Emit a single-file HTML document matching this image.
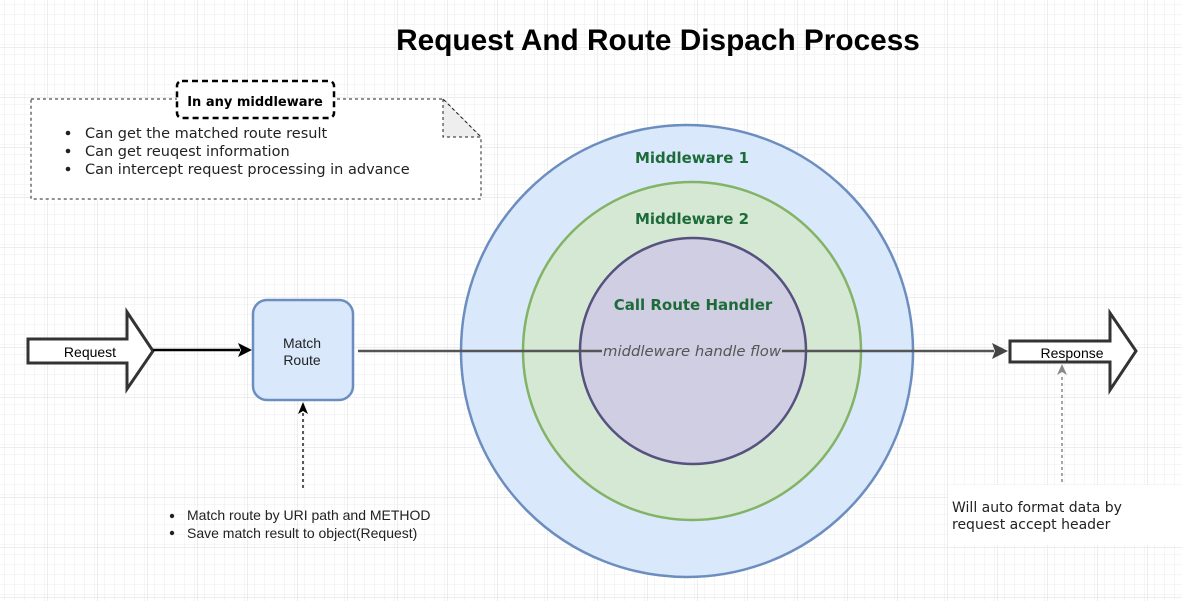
<!DOCTYPE html>
<html><head><meta charset="utf-8"><style>
html,body{margin:0;padding:0;background:#fff;}
svg{display:block;}
text{font-family:"Liberation Sans",sans-serif;}
text.dv{font-family:"DejaVu Sans",sans-serif;}
</style></head><body>
<svg width="1182" height="601" viewBox="0 0 1182 601" xmlns="http://www.w3.org/2000/svg">
<defs>
<pattern id="minor" width="10" height="10" patternUnits="userSpaceOnUse" x="-3" y="-3">
<path d="M10 0H0V10" fill="none" stroke="#ececec" stroke-width="1"/>
</pattern>
<pattern id="major" width="50" height="50" patternUnits="userSpaceOnUse" x="-3" y="-3">
<rect width="50" height="50" fill="url(#minor)"/>
<path d="M50 0H0V50" fill="none" stroke="#dcdcdc" stroke-width="1"/>
</pattern>
</defs>
<rect width="1182" height="601" fill="url(#major)"/>

<text x="658" y="50" text-anchor="middle" font-size="29.8" font-weight="bold" fill="#000">Request And Route Dispach Process</text>

<!-- note box -->
<path d="M31 99H443L481 137V199H31Z" fill="#fff" stroke="#222" stroke-dasharray="3,3"/>
<path d="M443 99V137H481Z" fill="#eee" stroke="#222" stroke-dasharray="3,3"/>
<rect x="177" y="81" width="157" height="37" rx="5" fill="#fff" stroke="#000" stroke-width="2.5" stroke-dasharray="6,4"/>
<text class="dv" x="255" y="106" text-anchor="middle" font-size="13" font-weight="bold">In any middleware</text>
<g fill="#222">
<circle cx="68" cy="133" r="2.3"/><text class="dv" x="85" y="138" font-size="14.5">Can get the matched route result</text>
<circle cx="68" cy="151" r="2.3"/><text class="dv" x="85" y="156" font-size="14.5">Can get reuqest information</text>
<circle cx="68" cy="169" r="2.3"/><text class="dv" x="85" y="174" font-size="14.5">Can intercept request processing in advance</text>
</g>

<!-- circles -->
<circle cx="687" cy="351" r="226" fill="#dae8fc" stroke="#6c8ebf" stroke-width="2.5"/>
<circle cx="692" cy="351" r="169" fill="#d5e8d4" stroke="#82b366" stroke-width="2.5"/>
<circle cx="693" cy="351" r="113" fill="#d0cee2" stroke="#56517e" stroke-width="2.5"/>
<text class="dv" x="692" y="163" text-anchor="middle" font-size="15" font-weight="bold" fill="#1e6b3a">Middleware 1</text>
<text class="dv" x="692" y="224" text-anchor="middle" font-size="15" font-weight="bold" fill="#1e6b3a">Middleware 2</text>
<text class="dv" x="693" y="310" text-anchor="middle" font-size="15" font-weight="bold" fill="#1e6b3a">Call Route Handler</text>

<!-- request arrow -->
<path d="M28 339H127V312L153 351L127 389V363H28Z" fill="#fff" stroke="#333" stroke-width="3"/>
<text x="90" y="357" text-anchor="middle" font-size="14">Request</text>
<line x1="153" y1="350" x2="240" y2="350" stroke="#000" stroke-width="2.5"/>
<path d="M252 350L238 343L241 350L238 357Z" fill="#000"/>

<!-- match route -->
<rect x="253" y="300" width="100" height="100" rx="14" fill="#dae8fc" stroke="#6c8ebf" stroke-width="2.5"/>
<text x="302" y="348" text-anchor="middle" font-size="14" fill="#222">Match</text>
<text x="302" y="365" text-anchor="middle" font-size="14" fill="#222">Route</text>
<line x1="303" y1="488" x2="303" y2="413" stroke="#222" stroke-width="1.5" stroke-dasharray="3,3"/>
<path d="M303 402L298 414L303 411L308 414Z" fill="#000"/>

<!-- main flow line -->
<line x1="358" y1="351" x2="994" y2="351" stroke="#555" stroke-width="2.5"/>
<rect x="602" y="341" width="180" height="20" fill="#d0cee2"/>
<text class="dv" x="692" y="356" text-anchor="middle" font-size="14" font-style="italic" fill="#555" textLength="178" lengthAdjust="spacingAndGlyphs">middleware handle flow</text>
<path d="M1008 351L992 343L995 351L992 359Z" fill="#444"/>

<!-- response arrow -->
<path d="M1010 341H1110V313L1136 351L1110 390V362H1010Z" fill="#fff" stroke="#333" stroke-width="3"/>
<text x="1072" y="358" text-anchor="middle" font-size="14">Response</text>
<line x1="1062" y1="482" x2="1062" y2="374" stroke="#888" stroke-width="1.5" stroke-dasharray="3,3"/>
<path d="M1062 364L1057 375L1062 372L1067 375Z" fill="#888"/>

<rect x="948" y="485" width="234" height="60" fill="#fff"/>
<text class="dv" x="952" y="512" font-size="14" fill="#222">Will auto format data by</text>
<text class="dv" x="952" y="529" font-size="14" fill="#222">request accept header</text>

<!-- bottom-left bullets -->
<g fill="#222">
<circle cx="172" cy="516" r="2.2"/><text x="187" y="520" font-size="14">Match route by URI path and METHOD</text>
<circle cx="172" cy="533" r="2.2"/><text x="187" y="538" font-size="14">Save match result to object(Request)</text>
</g>
</svg>
</body></html>
